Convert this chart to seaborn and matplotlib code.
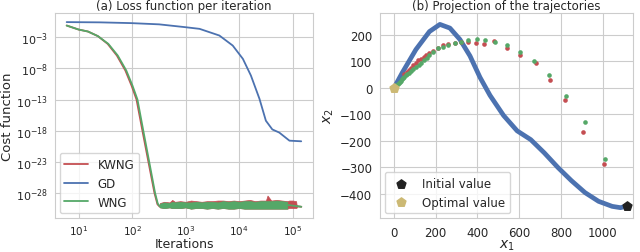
import numpy as np
import matplotlib
matplotlib.use("Agg")
import matplotlib.pyplot as plt
from matplotlib.ticker import FixedLocator, NullLocator
import seaborn as sns

# ---------------- data ----------------
# (a) loss curves: iterations and log10(cost)
kwng_it = [6, 10, 15, 23, 35, 52, 75, 98, 121, 156, 202, 262, 298, 330, 1000, 10000, 79000, 145000]
kwng_exp = [-1.14, -1.78, -2.1, -2.84, -4.08, -5.95, -8.36, -10.8, -13.0, -18.0, -23.0, -28.0,
            -29.8, -30.2, -30.0, -29.9, -29.9, -30.2]
wng_it = [6, 10, 15, 23, 36, 54, 78, 102, 126, 162, 209, 269, 302, 335, 1000, 10000, 79000, 145000]
wng_exp = [-1.14, -1.78, -2.1, -2.84, -4.08, -5.95, -8.36, -10.8, -13.0, -18.0, -23.0, -28.0,
           -29.7, -30.2, -30.0, -29.9, -29.9, -30.2]
gd_it = [6, 25, 95, 320, 955, 1820, 4270, 7590, 11750, 16600, 24000, 31600, 41700, 56200, 87100, 144500]
gd_exp = [-0.59, -0.63, -0.75, -0.95, -1.39, -1.67, -2.74, -4.35, -6.48, -9.16, -12.9, -16.4,
          -17.8, -18.3, -19.6, -19.7]

# noisy floor envelopes (log10 cost)
floor_it = [331, 398, 501, 562, 631, 794, 1000, 1259, 1585, 1995, 2512, 3162, 3981, 5012, 6310,
            7943, 10000, 12589, 15849, 19953, 25119, 31623, 33900, 39811, 50119, 63096, 79433]
wng_hi = [-29.7, -29.5, -29.6, -29.4, -29.5, -29.4, -29.5, -29.5, -29.4, -29.5, -29.4, -29.4, -29.5,
          -29.3, -29.4, -29.3, -29.4, -29.3, -29.3, -29.4, -29.3, -29.3, -29.3, -29.3, -29.2, -29.3, -29.4]
wng_lo = [-30.3, -30.4, -30.3, -30.4, -30.4, -30.4, -30.3, -30.5, -30.4, -30.4, -30.5, -30.4, -30.5,
          -30.4, -30.5, -30.5, -30.4, -30.5, -30.5, -30.5, -30.5, -30.5, -30.5, -30.5, -30.5, -30.5, -30.5]
kwng_floor_it = floor_it + [86000, 100000, 116000, 120000]
kwng_hi = [-29.6, -29.4, -29.5, -29.1, -29.4, -29.3, -29.4, -29.2, -29.3, -29.4, -29.3, -29.3, -29.2,
           -29.2, -29.3, -29.2, -29.3, -29.2, -29.1, -29.3, -29.2, -29.2, -28.4, -29.2, -29.1, -29.2, -29.3,
           -29.2, -29.2, -29.3, -30.2]
kwng_lo = [-30.3, -30.4, -30.3, -30.4, -30.4, -30.4, -30.3, -30.5, -30.4, -30.4, -30.5, -30.4, -30.5,
           -30.4, -30.5, -30.5, -30.4, -30.5, -30.5, -30.5, -30.5, -30.5, -30.5, -30.5, -30.5, -30.5, -30.5,
           -30.4, -30.4, -30.4, -30.3]

# (b) trajectories in the (x1, x2) plane
gd_x1 = [0, 40, 105, 170, 220, 268, 316, 364, 412, 460, 525, 590, 655, 720, 785, 850, 915, 980, 1045, 1085, 1110]
gd_x2 = [0, 58, 145, 213, 240, 226, 183, 121, 40, -28, -104, -162, -195, -245, -300, -350, -395, -428,
         -447, -452, -447]
wng_x1 = [0, 4, 8, 12, 17, 22, 27, 32, 38, 44, 50, 57, 64, 72, 81, 93, 105, 118, 130, 143, 157, 170,
          186, 210, 235, 260, 290, 322, 356, 397, 437, 485, 542, 603, 671, 743, 825, 916, 1011]
wng_x2 = [0, 4, 8, 12, 16, 20, 24, 28, 33, 38, 42, 48, 53, 58, 64, 71, 78, 86, 95, 104, 113, 124,
          136, 149, 154, 163, 170, 175, 181, 184, 181, 174, 161, 136, 100, 49, -29, -130, -267]
kwng_x1 = [49, 60, 70, 81, 93, 105, 117, 130, 142, 154, 170, 186, 210, 235, 261, 290, 322, 356, 392,
           429, 481, 542, 603, 680, 749, 820, 904, 1007]
kwng_x2 = [52, 60, 68, 77, 86, 96, 104, 111, 118, 125, 133, 141, 151, 162, 166, 170, 172, 175, 168,
           165, 177, 152, 124, 94, 31, -45, -167, -287]
init_pt = [1115, -447]
opt_pt = [0, 0]

# ---------------- styling ----------------
sns.set_style("whitegrid")
red, blue, green, tan = "#C44E52", "#4C72B0", "#55A868", "#CCB974"
plt.rcParams["font.family"] = ["DejaVu Sans"]

fig = plt.figure(figsize=(6.4, 2.53), dpi=100)
ax1 = fig.add_axes([55 / 640, 34 / 253, 258 / 640, 205 / 253])
ax2 = fig.add_axes([380 / 640, 34 / 253, 253 / 640, 205 / 253])

# ---------------- (a) loss ----------------
p = lambda e: 10.0 ** np.array(e)
ax1.fill_between(kwng_floor_it, p(kwng_lo), p(kwng_hi), color=red, lw=0.5, zorder=2)
sns.lineplot(x=kwng_it, y=p(kwng_exp), ax=ax1, color=red, lw=1.3, label="KWNG", zorder=3)
sns.lineplot(x=gd_it, y=p(gd_exp), ax=ax1, color=blue, lw=1.3, label="GD", zorder=3)
sns.lineplot(x=wng_it, y=p(wng_exp), ax=ax1, color=green, lw=1.3, label="WNG", zorder=4)
ax1.fill_between(floor_it, p(wng_lo), p(wng_hi), color=green, lw=0.5, zorder=4)
ax1.set_xscale("log")
ax1.set_yscale("log")
ax1.set_xlim(10 ** 0.56, 10 ** 5.38)
ax1.set_ylim(10 ** -32.0, 10 ** 0.87)
ax1.yaxis.set_major_locator(FixedLocator([1e-3, 1e-8, 1e-13, 1e-18, 1e-23, 1e-28]))
ax1.yaxis.set_minor_locator(NullLocator())
ax1.xaxis.set_minor_locator(NullLocator())
ax1.set_xlabel("Iterations", fontsize=9)
ax1.set_ylabel("Cost function", fontsize=9.5)
ax1.xaxis.set_label_coords(0.5, -0.092)
ax1.yaxis.set_label_coords(-0.16, 0.5)
ax1.set_title("(a) Loss function per iteration", fontsize=8.5, pad=3)
ax1.tick_params(axis="y", labelsize=8, pad=1.5)
ax1.tick_params(axis="x", labelsize=7.5, pad=0.5)
ax1.legend(loc="lower left", fontsize=8.5, handlelength=2.0, borderaxespad=0.4)

# ---------------- (b) trajectories ----------------
ax2.plot(gd_x1, gd_x2, color=blue, lw=3.4, solid_capstyle="round", zorder=2)
sns.scatterplot(x=kwng_x1, y=kwng_x2, ax=ax2, color=red, s=11, linewidth=0, zorder=3)
sns.scatterplot(x=wng_x1, y=wng_x2, ax=ax2, color=green, s=11, linewidth=0, zorder=4)
ax2.scatter([init_pt[0]], [init_pt[1]], marker="p", s=45, color="#222222", zorder=5, label="Initial value")
ax2.scatter([opt_pt[0]], [opt_pt[1]], marker="p", s=45, color=tan, zorder=5, label="Optimal value")
ax2.set_xlim(-67, 1145)
ax2.set_ylim(-491, 283)
ax2.set_xticks([0, 200, 400, 600, 800, 1000])
ax2.set_yticks([-400, -300, -200, -100, 0, 100, 200])
ax2.set_xlabel("$x_1$", fontsize=10)
ax2.set_ylabel("$x_2$", fontsize=10)
ax2.xaxis.set_label_coords(0.5, -0.095)
ax2.yaxis.set_label_coords(-0.175, 0.5)
ax2.set_title("(b) Projection of the trajectories", fontsize=8.5, pad=3)
ax2.tick_params(labelsize=8.5, pad=2)
ax2.legend(loc="lower left", fontsize=8.5, borderaxespad=0.4)

fig.savefig("out.png", dpi=100)
